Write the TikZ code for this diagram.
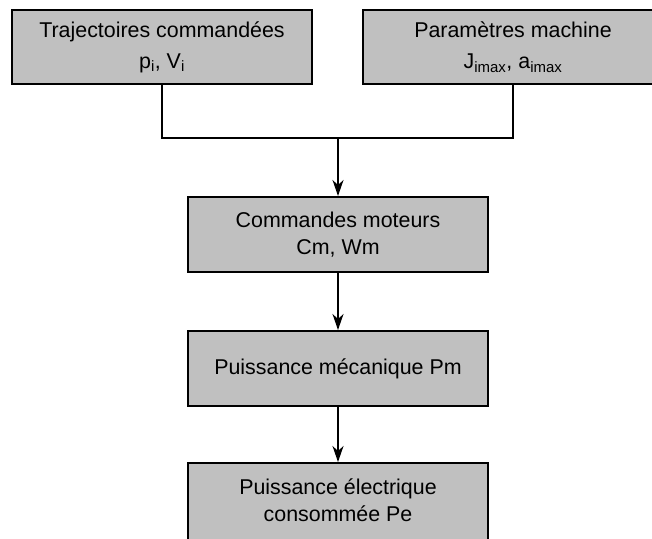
\documentclass[tikz,border=0pt]{standalone}
\usepackage{fontspec}
\setmainfont{Liberation Sans}
\usetikzlibrary{arrows.meta}
\tikzset{
  box/.style={draw=black, fill=boxgray, line width=2pt, minimum width=300pt, inner sep=0pt,
    align=center, font=\fontsize{21.4}{27}\selectfont},
  conn/.style={line width=1.5pt, draw=black},
  arr/.style={conn, -{Stealth[length=16pt,width=11pt,inset=5pt]}}
}
\definecolor{boxgray}{RGB}{192,192,192}
\begin{document}
\begin{tikzpicture}[x=1pt,y=-1pt]
\useasboundingbox (0,0) rectangle (652,538);
\clip (0,0) rectangle (652,538);
\node[box, minimum height=74pt] (A) at (162,47) {Trajectoires commandées\\[4pt]p\textsubscript{i}, V\textsubscript{i}};
\node[box, minimum height=74pt] (B) at (513,47) {Paramètres machine\\[4pt]J\textsubscript{imax}, a\textsubscript{imax}};
\node[box, minimum height=75pt] (C) at (338,234.5) {Commandes moteurs\\Cm, Wm};
\node[box, minimum height=75pt] (D) at (338,368.5) {Puissance mécanique Pm};
\node[box, minimum height=80pt] (E) at (338,503) {\raisebox{2pt}{\begin{tabular}{@{}c@{}}Puissance électrique\\consommée Pe\end{tabular}}};
\coordinate (j) at (338,138);
\draw[conn] (A.south) -- (A.south |- j) -- (B.south |- j) -- (B.south);
\draw[arr] (j) -- (C.north);
\draw[arr] (C.south) -- (D.north);
\draw[arr] (D.south) -- (E.north);
\end{tikzpicture}
\end{document}
